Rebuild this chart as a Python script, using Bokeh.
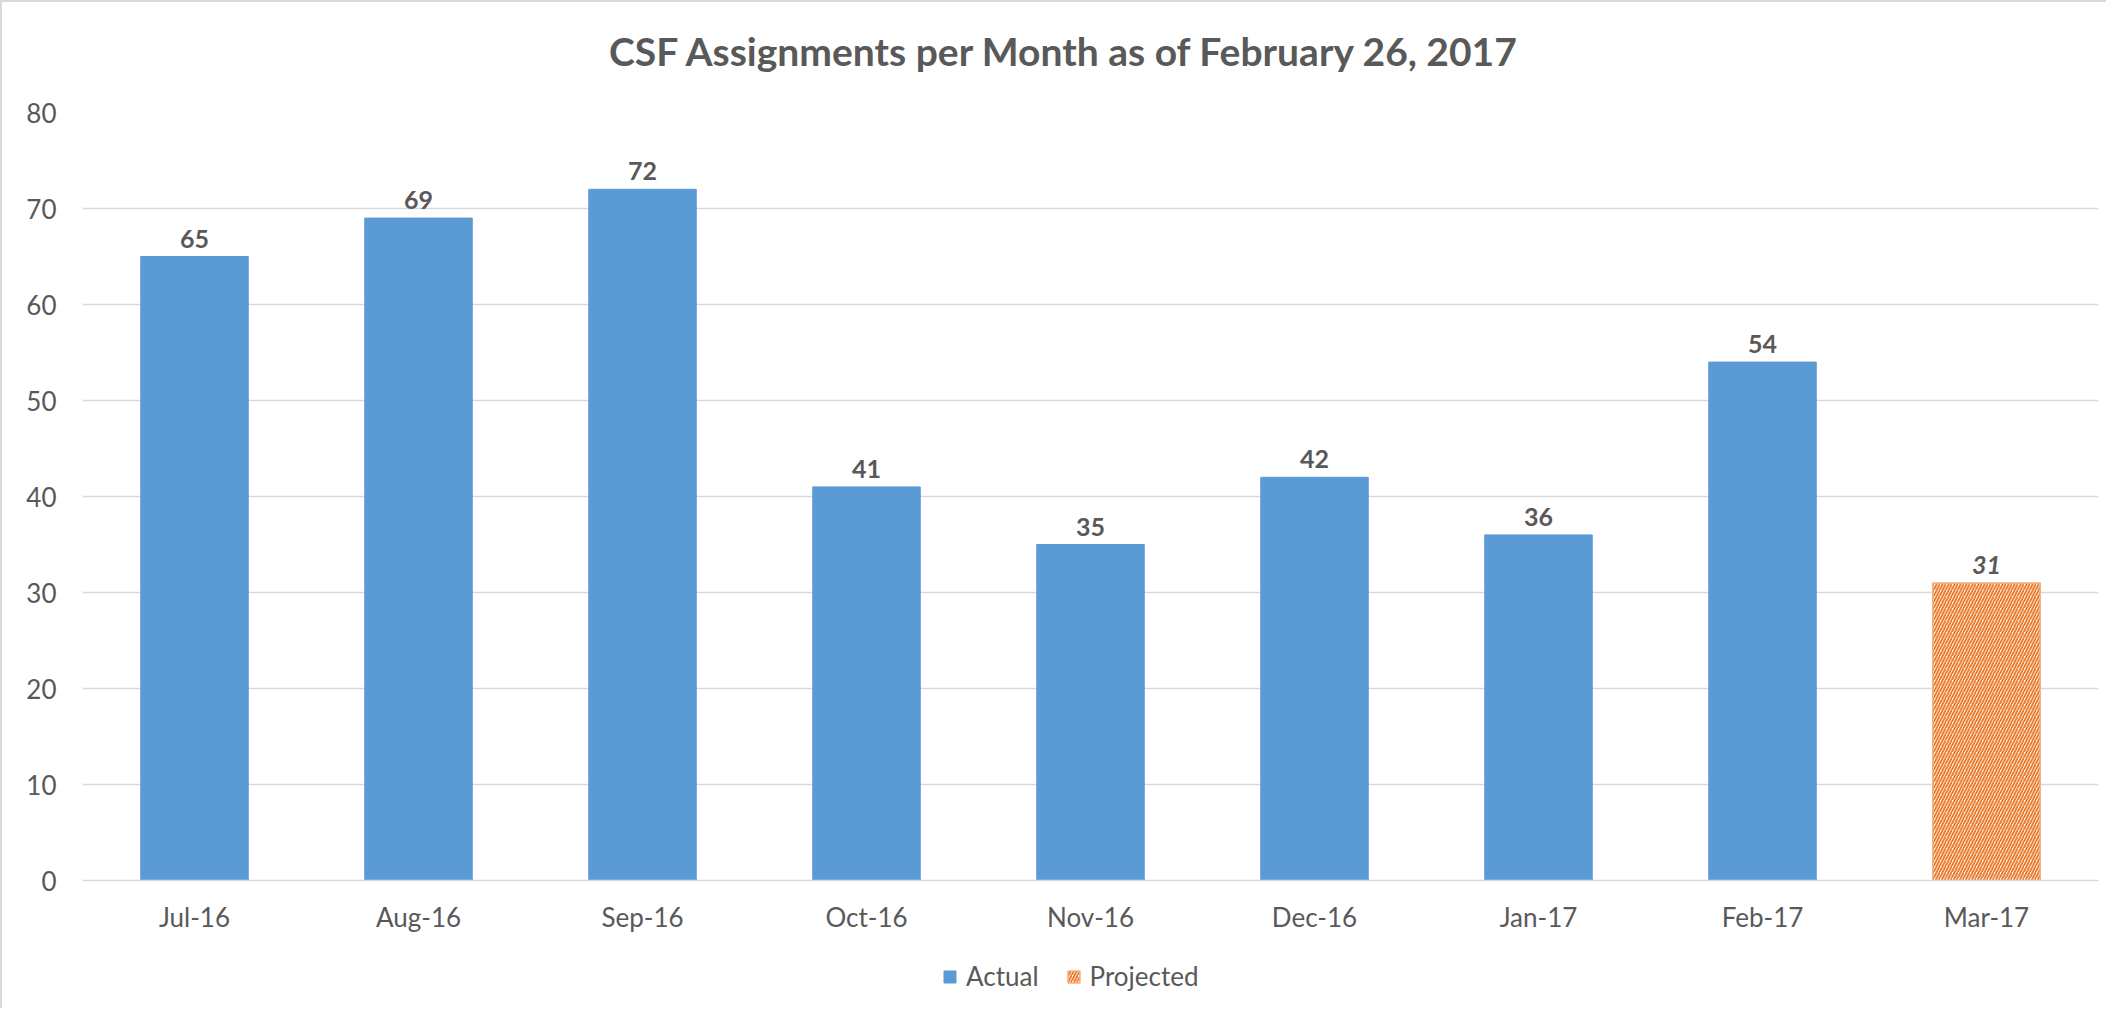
from bokeh.plotting import figure
from bokeh.layouts import column
from bokeh.models import (ColumnDataSource, FactorRange, Range1d, Legend, LegendItem,
                          FixedTicker, Label)
from bokeh.core.properties import value
from bokeh.embed import file_html
from bokeh.resources import INLINE

# ---- data ----
months = ["Jul-16", "Aug-16", "Sep-16", "Oct-16", "Nov-16", "Dec-16", "Jan-17", "Feb-17", "Mar-17"]
actual_months = ["Jul-16", "Aug-16", "Sep-16", "Oct-16", "Nov-16", "Dec-16", "Jan-17", "Feb-17"]
actual_values = [65, 69, 72, 41, 35, 42, 36, 54]
projected_months = ["Mar-17"]
projected_values = [31]
y_ticks = [0, 10, 20, 30, 40, 50, 60, 70, 80]
title_text = "CSF Assignments per Month as of February 26, 2017"
series_names = ["Actual", "Projected"]

FONT = "Lato"
GREY = "#595959"
BLUE = "#5B9BD5"
ORANGE = "#ED7D31"
ORANGE_EDGE = "#F4B183"
GRID = "#D9D9D9"

W = 2104

# ---- title strip ----
tt = figure(x_range=Range1d(0, 1), y_range=Range1d(0, 1), width=W, height=90,
            output_backend="svg", toolbar_location=None,
            x_axis_location=None, y_axis_location=None,
            min_border_left=0, min_border_right=0, min_border_top=0, min_border_bottom=0)
tt.grid.visible = False
tt.outline_line_color = None
tt.add_layout(Label(x=0.4875, y=0.46, x_units="data", y_units="data", text=title_text,
                    text_align="center", text_baseline="middle", text_font=FONT,
                    text_font_style="bold", text_font_size="39px", text_color=GREY))

# ---- main chart ----
src_a = ColumnDataSource(dict(x=actual_months, y=actual_values, lbl=[str(v) for v in actual_values]))
src_p = ColumnDataSource(dict(x=projected_months, y=projected_values, lbl=[str(v) for v in projected_values]))

p = figure(x_range=FactorRange(*months), y_range=Range1d(0, 80),
           width=W, height=860, output_backend="svg", toolbar_location=None,
           min_border_left=80, min_border_right=8, min_border_top=20, min_border_bottom=72)

p.outline_line_color = None
p.background_fill_color = "white"
p.border_fill_color = "white"

hatch_kw = dict(fill_color="white", line_color=ORANGE_EDGE, line_width=1.5,
                hatch_pattern="/", hatch_color=ORANGE, hatch_scale=6, hatch_weight=2.0)

p.vbar(x="x", top="y", width=0.48, source=src_a, fill_color=BLUE, line_color=BLUE)
p.vbar(x="x", top="y", width=0.48, source=src_p, **hatch_kw)

p.text(x="x", y="y", text="lbl", source=src_a, y_offset=-9,
       text_align="center", text_baseline="bottom",
       text_font=value(FONT), text_font_style="bold", text_font_size="25px", text_color=GREY)
p.text(x="x", y="y", text="lbl", source=src_p, y_offset=-9,
       text_align="center", text_baseline="bottom",
       text_font=value(FONT), text_font_style="bold italic", text_font_size="25px", text_color=GREY)

# axes
p.yaxis.ticker = FixedTicker(ticks=y_ticks)
p.yaxis.axis_line_color = None
p.yaxis.major_tick_line_color = None
p.yaxis.minor_tick_line_color = None
p.yaxis.major_tick_out = 0
p.yaxis.major_label_standoff = 26
p.yaxis.major_label_text_font = FONT
p.yaxis.major_label_text_font_size = "26px"
p.yaxis.major_label_text_color = GREY

p.xaxis.axis_line_color = GRID
p.xaxis.axis_line_width = 1.5
p.xaxis.major_tick_line_color = None
p.xaxis.minor_tick_line_color = None
p.xaxis.major_tick_out = 0
p.xaxis.major_label_standoff = 20
p.xaxis.major_label_text_font = FONT
p.xaxis.major_label_text_font_size = "26px"
p.xaxis.major_label_text_color = GREY

p.xgrid.grid_line_color = None
p.ygrid.grid_line_color = GRID
p.ygrid.grid_line_width = 1.5

# ---- legend strip below the chart ----
lg = figure(x_range=Range1d(0, 1), y_range=Range1d(0, 1), width=W, height=56,
            output_backend="svg", toolbar_location=None,
            x_axis_location=None, y_axis_location=None,
            min_border_left=0, min_border_right=0, min_border_top=0, min_border_bottom=0)
lg.grid.visible = False
lg.outline_line_color = None
# off-range swatch sources (only their legend glyphs are seen)
la = lg.vbar(x=[-5], top=[-5], width=0.5, fill_color=BLUE, line_color=BLUE)
lp = lg.vbar(x=[-5], top=[-5], width=0.5, **hatch_kw)
legend = Legend(items=[LegendItem(label=series_names[0], renderers=[la]),
                       LegendItem(label=series_names[1], renderers=[lp])],
                orientation="horizontal", location=(860, 16),
                border_line_color=None, background_fill_alpha=0,
                label_text_font=FONT, label_text_font_size="26px", label_text_color=GREY,
                glyph_width=15, glyph_height=15, label_standoff=9, spacing=27,
                margin=0, padding=6)
lg.add_layout(legend)

layout = column(tt, p, lg, spacing=0)
layout.styles = {"border-left": "2px solid #D9D9D9", "border-top": "2px solid #D9D9D9"}

open("out.html", "w").write(file_html(layout, INLINE))
